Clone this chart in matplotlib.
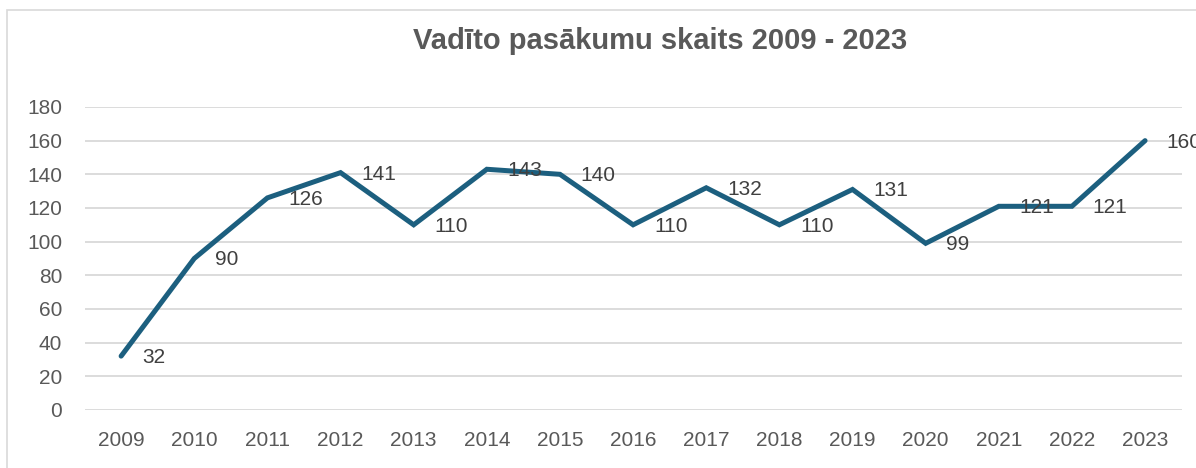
import matplotlib.pyplot as plt
from matplotlib.patches import Rectangle
from matplotlib import font_manager

# dati
years = ['2009', '2010', '2011', '2012', '2013', '2014', '2015', '2016',
         '2017', '2018', '2019', '2020', '2021', '2022', '2023']
events = [32, 90, 126, 141, 110, 143, 140, 110, 132, 110, 131, 99, 121, 121, 160]
title = 'Vadīto pasākumu skaits 2009 - 2023'

names = {f.name for f in font_manager.fontManager.ttflist}
fam = ['Liberation Sans Narrow'] if 'Liberation Sans Narrow' in names else ['Liberation Sans']
plt.rcParams['font.family'] = fam + ['DejaVu Sans']

fig = plt.figure(figsize=(11.96, 4.68), dpi=100)
ax = fig.add_axes([0.0707, 0.124, 0.9173, 0.6474])

x = list(range(len(years)))
ax.plot(x, events, color='#1c5f7f', lw=3.6, solid_capstyle='round', solid_joinstyle='miter', zorder=3)

for xi, v in zip(x, events):
    ax.annotate(str(v), (xi, v), xytext=(15, -1), textcoords='offset points',
                ha='left', va='center', fontsize=15, color='#404040',
                annotation_clip=False, zorder=4)

ax.set_xlim(-0.5, len(years) - 0.5)
ax.set_ylim(0, 180)
ax.set_yticks(range(0, 181, 20))
ax.set_xticks(x)
ax.set_xticklabels(years)
ax.grid(axis='y', color='#d9d9d9', lw=1.3)
ax.set_axisbelow(True)
for s in ax.spines.values():
    s.set_visible(False)
ax.tick_params(length=0, labelsize=15, colors='#595959')
ax.tick_params(axis='y', pad=16)
ax.tick_params(axis='x', pad=15)

fig.text(0.552, 0.913, title, ha='center', va='center', fontsize=21,
         fontweight='bold', color='#595959')

# ramis ap diagrammu
fig.patches.append(Rectangle((7 / 1196, -0.05), 1.1, 1 - 10 / 468 + 0.05,
                             transform=fig.transFigure, fill=False,
                             edgecolor='#d9d9d9', lw=1.2))

fig.savefig('out.png', dpi=100)
